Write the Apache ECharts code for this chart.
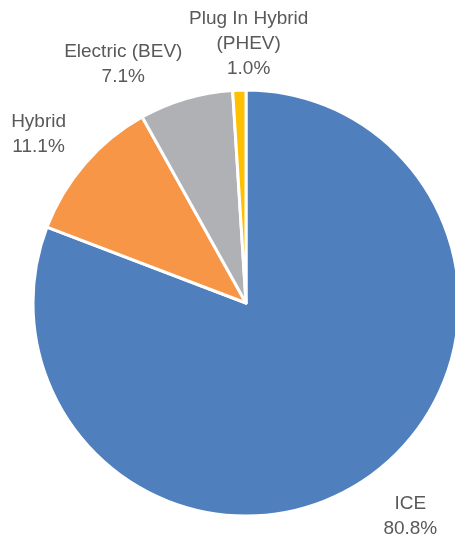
<!DOCTYPE html>
<html>
<head>
<meta charset="utf-8">
<script src="https://cdn.jsdelivr.net/npm/echarts@6/dist/echarts.min.js"></script>
<style>
html,body{margin:0;padding:0;background:#fff;}
#chart{width:455px;height:538px;}
</style>
</head>
<body>
<div id="chart"></div>
<script>
const categories = ['ICE', 'Hybrid', 'Electric (BEV)', 'Plug In Hybrid\n(PHEV)'];
const values = [80.8, 11.1, 7.1, 1.0];
const colors = ['#4F80BD', '#F79646', '#B0B1B4', '#FFC000'];

const chart = echarts.init(document.getElementById('chart'), null, {renderer: 'canvas'});
const labelShift = [[14, -5], [-7, 5], [-48, 16], [11, 6]];
chart.setOption({
  animation: false,
  color: colors,
  series: [{
    type: 'pie',
    center: [246, 303],
    radius: 213,
    startAngle: 90,
    clockwise: true,
    avoidLabelOverlap: false,
    itemStyle: {borderColor: '#fff', borderWidth: 3},
    label: {
      show: true,
      position: 'outside',
      formatter: p => p.name + '\n' + p.value.toFixed(1) + '%',
      fontFamily: 'Liberation Sans, Arial, sans-serif',
      fontSize: 19,
      lineHeight: 25,
      color: '#595959',
      distanceToLabelLine: 0
    },
    labelLine: {show: false, length: 52, length2: 0},
    labelLayout: function (params) {
      const s = labelShift[params.dataIndex] || [0, 0];
      return {align: 'center', verticalAlign: 'middle', dx: s[0], dy: s[1]};
    },
    data: categories.map((c, i) => ({name: c, value: values[i]}))
  }]
});
</script>
</body>
</html>
